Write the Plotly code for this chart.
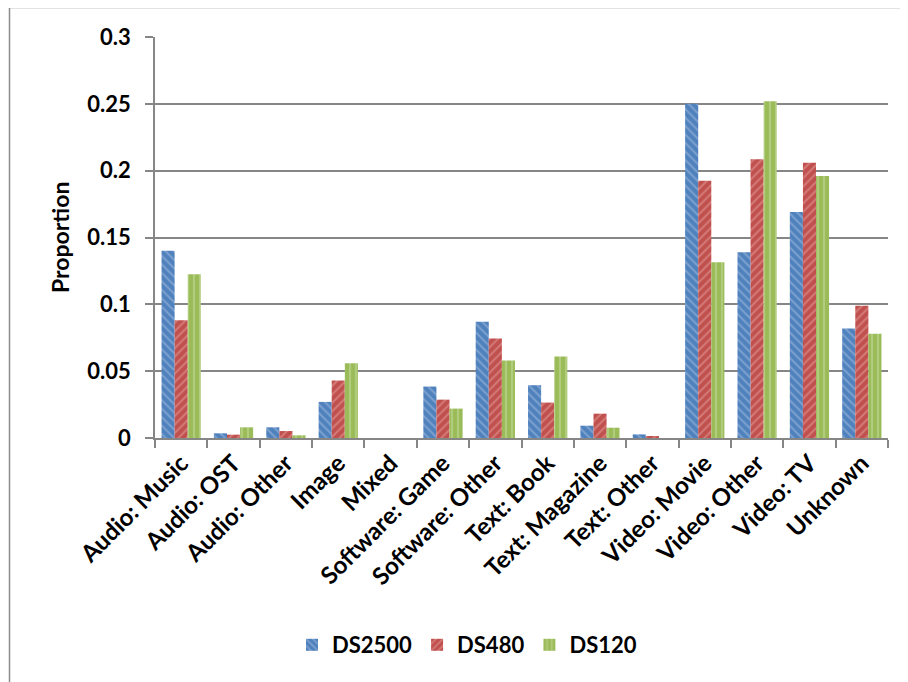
import plotly.graph_objects as go

categories = ["Audio: Music", "Audio: OST", "Audio: Other", "Image", "Mixed",
              "Software: Game", "Software: Other", "Text: Book", "Text: Magazine",
              "Text: Other", "Video: Movie", "Video: Other", "Video: TV", "Unknown"]
ds2500 = [0.140, 0.0035, 0.008, 0.027, 0.0, 0.0385, 0.087, 0.0395, 0.0092, 0.0027,
          0.250, 0.139, 0.169, 0.082]
ds480 = [0.088, 0.0025, 0.0052, 0.043, 0.0, 0.0287, 0.0745, 0.0265, 0.0182, 0.0012,
         0.1925, 0.2085, 0.206, 0.099]
ds120 = [0.1225, 0.008, 0.002, 0.056, 0.0, 0.022, 0.058, 0.061, 0.0077, 0.0,
         0.1315, 0.252, 0.196, 0.078]
series_names = ["DS2500", "DS480", "DS120"]
yticks = [0, 0.05, 0.1, 0.15, 0.2, 0.25, 0.3]
ytick_text = ["0", "0.05", "0.1", "0.15", "0.2", "0.25", "0.3"]

styles = [
    dict(color="#4F81BD", fg="#A7C0E0", shape="\\"),
    dict(color="#C0504D", fg="#E5A3A1", shape="/"),
    dict(color="#9BBB59", fg="#CADDA3", shape="|"),
]

FONT = "Lato"
fig = go.Figure()
for name, vals, st in zip(series_names, [ds2500, ds480, ds120], styles):
    fig.add_trace(go.Bar(
        x=categories, y=vals, name=name,
        marker=dict(color=st["color"], line=dict(width=0),
                    pattern=dict(shape=st["shape"], fgcolor=st["fg"], size=6,
                                 solidity=0.35, fillmode="overlay")),
    ))

OFF = 8  # page body margin
W, H = 908, 682
L = 155 - OFF
T = 37 - OFF
R = W - (888 - OFF)
B = H - (438 - OFF)
pw, ph = W - L - R, H - T - B

def px(x):
    return (x - OFF - L) / pw

def py(y):
    return (H - B - (y - OFF)) / ph

fig.update_layout(
    width=W, height=H,
    margin=dict(l=L, r=R, t=T, b=B, autoexpand=False),
    paper_bgcolor="white", plot_bgcolor="white",
    barmode="group", bargap=0.25, bargroupgap=0.0,
    font=dict(family=FONT, size=22, color="black"),
    showlegend=True,
    legend=dict(orientation="h", x=px(467), xanchor="center", y=py(645), yanchor="middle",
                font=dict(family=FONT, size=22, color="black", weight="bold"),
                itemwidth=30, traceorder="normal"),
    xaxis=dict(type="category", showgrid=False, showline=True, linecolor="#868686",
               linewidth=1.5, ticks="outside", tickson="boundaries", ticklen=8,
               tickcolor="#868686", tickwidth=1.5, tickangle=-45, automargin=False,
               tickfont=dict(family=FONT, size=24, color="black", weight="bold")),
    yaxis=dict(range=[0, 0.3], tickvals=yticks, ticktext=ytick_text,
               showgrid=True, gridcolor="#868686", gridwidth=1.5,
               showline=True, linecolor="#868686", linewidth=1.5,
               ticks="outside", ticklen=8, tickcolor="#868686", tickwidth=1.5,
               zeroline=False, ticklabelstandoff=10, automargin=False,
               tickfont=dict(family=FONT, size=22, color="black", weight="bold")),
    annotations=[dict(text="Proportion", x=px(60), y=py(237), xref="paper", yref="paper",
                      xanchor="center", yanchor="middle",
                      showarrow=False, textangle=-90,
                      font=dict(family=FONT, size=23, color="black", weight="bold"))],
    shapes=[dict(type="rect", xref="paper", yref="paper",
                 x0=px(9.5), x1=px(930), y0=py(7.5), y1=py(700),
                 line=dict(color="#8C8C8C", width=1.5), fillcolor="rgba(0,0,0,0)",
                 layer="below")],
)

fig.write_html("out.html")
